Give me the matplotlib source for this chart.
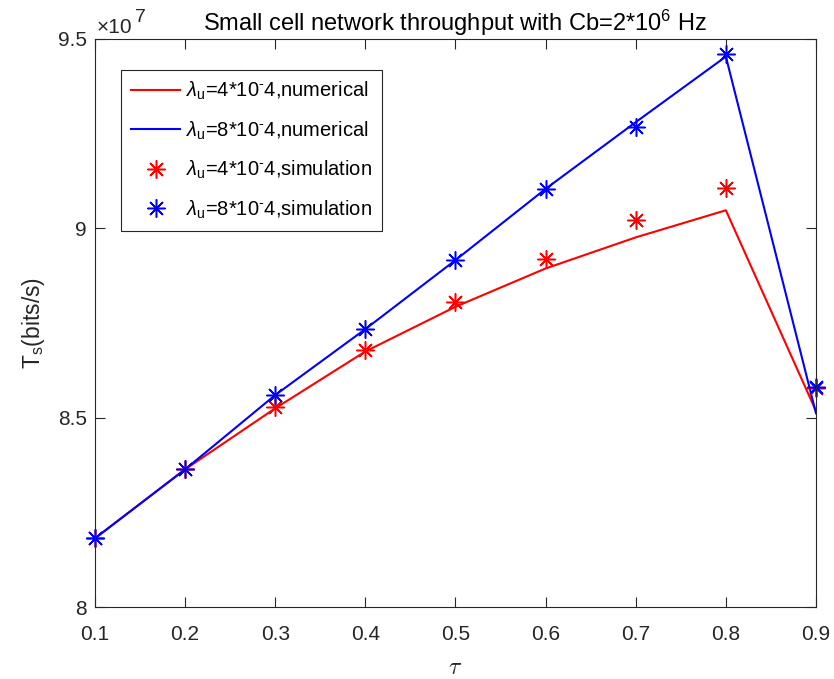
import matplotlib
matplotlib.use("Agg")
import matplotlib.pyplot as plt
from matplotlib.ticker import FuncFormatter

# Fraction of time tau and small-cell throughput (bits/s)
tau = [0.1, 0.2, 0.3, 0.4, 0.5, 0.6, 0.7, 0.8, 0.9]

num_low = [8.182e7, 8.364e7, 8.525e7, 8.675e7, 8.793e7, 8.894e7, 8.976e7, 9.0475e7, 8.518e7]
num_high = [8.182e7, 8.364e7, 8.560e7, 8.734e7, 8.916e7, 9.104e7, 9.280e7, 9.453e7, 8.512e7]
sim_low = [8.182e7, 8.364e7, 8.528e7, 8.679e7, 8.806e7, 8.919e7, 9.022e7, 9.107e7, 8.578e7]
sim_high = [8.182e7, 8.364e7, 8.560e7, 8.7335e7, 8.916e7, 9.104e7, 9.268e7, 9.459e7, 8.582e7]

labels = [
    r"$\lambda_{\mathrm{u}}$=4*10$^{\mathrm{\text{-}}}$4,numerical",
    r"$\lambda_{\mathrm{u}}$=8*10$^{\mathrm{\text{-}}}$4,numerical",
    r"$\lambda_{\mathrm{u}}$=4*10$^{\mathrm{\text{-}}}$4,simulation",
    r"$\lambda_{\mathrm{u}}$=8*10$^{\mathrm{\text{-}}}$4,simulation",
]
xticks = [0.1, 0.2, 0.3, 0.4, 0.5, 0.6, 0.7, 0.8, 0.9]
yticks = [8.0e7, 8.5e7, 9.0e7, 9.5e7]

family = "Liberation Sans"
plt.rcParams["font.family"] = [family, "DejaVu Sans"]
plt.rcParams["mathtext.fontset"] = "custom"
plt.rcParams["mathtext.rm"] = family
plt.rcParams["mathtext.it"] = family + ":italic"
plt.rcParams["mathtext.sf"] = family

ink = "#262626"
fig = plt.figure(figsize=(8.34, 6.79), dpi=100)
ax = fig.add_axes([0.1139, 0.1056, 0.8645, 0.8373])

marker = (8, 2, 0)
ax.plot(tau, num_low, color="red", lw=1.5, label=labels[0])
ax.plot(tau, num_high, color="blue", lw=1.5, label=labels[1])
ax.plot(tau, sim_low, ls="none", marker=marker, ms=13, mew=1.1,
        color="red", label=labels[2], clip_on=False)
ax.plot(tau, sim_high, ls="none", marker=marker, ms=13, mew=1.1,
        color="blue", label=labels[3], clip_on=False)

ax.set_xlim(0.1, 0.9)
ax.set_ylim(8.0e7, 9.5e7)
ax.set_xticks(xticks)
ax.set_yticks(yticks)
ax.xaxis.set_major_formatter(FuncFormatter(lambda v, p: f"{v:g}"))
ax.yaxis.set_major_formatter(FuncFormatter(lambda v, p: f"{v / 1e7:g}"))
ax.tick_params(direction="in", length=7, width=0.8, colors=ink,
               labelsize=15, top=True, right=True)
ax.tick_params(axis="x", pad=13)
ax.tick_params(axis="y", pad=6)
for s in ax.spines.values():
    s.set_color(ink)
    s.set_linewidth(0.8)

# exponent label for the y axis
ax.annotate("\u00d710", xy=(0, 1), xycoords="axes fraction",
            xytext=(1.2, 4.3), textcoords="offset points",
            fontsize=15, color=ink, ha="left", va="baseline")
ax.annotate("7", xy=(0, 1), xycoords="axes fraction",
            xytext=(28.5, 12.0), textcoords="offset points",
            fontsize=14, color=ink, ha="left", va="baseline")

ax.set_title("Small cell network throughput with Cb=2*10$^{6}$ Hz",
             fontsize=17, color="black", pad=6)
ax.set_xlabel(r"$\tau$", fontsize=17, color=ink, math_fontfamily="cm", labelpad=9)
ax.set_ylabel(r"T$_{\mathrm{s}}$(bits/s)", fontsize=16.5, color=ink, labelpad=8)

leg = ax.legend(loc="upper left", bbox_to_anchor=(0.036, 0.945), fontsize=14.5,
                frameon=True, fancybox=False, edgecolor=ink, framealpha=1,
                handlelength=2.45, handletextpad=0.3, borderpad=0.5,
                labelspacing=0.85, borderaxespad=0)
leg.get_frame().set_linewidth(0.8)

fig.savefig("out.png", dpi=100)
